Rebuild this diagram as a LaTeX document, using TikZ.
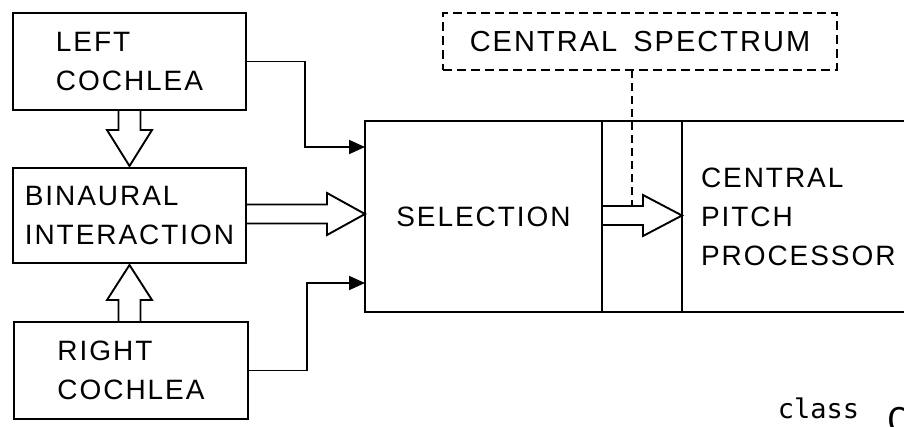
\documentclass[tikz,border=0pt]{standalone}
\usepackage{fontspec}
\setmainfont{Liberation Sans}[LetterSpace=7]
\newfontfamily\monofont{DejaVu Sans Mono}
\usetikzlibrary{arrows.meta,calc}
\begin{document}
\begin{tikzpicture}[x=1pt,y=-1pt, line width=1.9pt,
  box/.style={draw, rectangle, inner sep=0pt, outer sep=0pt, anchor=north west},
  lbl/.style={font=\fontsize{28}{39}\selectfont, align=left},
  conn/.style={-{Triangle[length=16pt,width=14pt]}},
  fat/.style={line join=miter},
  dbox/.style={dash pattern=on 9pt off 5pt}]
\useasboundingbox (0,0) rectangle (904,426);

\node[box, lbl, minimum width=233pt, minimum height=97pt] (lc) at (13,13) {LEFT\\COCHLEA};
\node[box, lbl, minimum width=233pt, minimum height=95pt] (bi) at (13,168) {BINAURAL\\INTERACTION};
\node[box, lbl, minimum width=234pt, minimum height=97pt] (rc) at (14,322) {RIGHT\\COCHLEA};

\node[box, lbl, minimum width=237pt, minimum height=191pt] (sel) at (365,121) {SELECTION};
\node[box, minimum width=80pt, minimum height=191pt] (mid) at (602,121) {};
\node[box, lbl, minimum width=240pt, minimum height=191pt, text width=202pt, inner xsep=19pt] (cpp) at (682,121) {CENTRAL\\PITCH\\PROCESSOR};

\node[box, dbox, font=\fontsize{29}{29}\selectfont, minimum width=394pt, minimum height=57pt] (cs) at (443,13) {CENTRAL\hspace{16pt}SPECTRUM};

% hollow arrow left cochlea -> binaural
\coordinate (c1) at (lc.south);
\draw[fat] ($(c1)+(-11,0)$) -- ++(0,20) -- ++(-11.5,0) -- ($(bi.north)+(0,-2)$)
  -- ($(c1)+(22.5,20)$) -- ++(-11.5,0) -- ($(c1)+(11,0)$);
% hollow arrow right cochlea -> binaural
\coordinate (c2) at ($(rc.north)+(-1.5,0)$);
\draw[fat] ($(c2)+(-11,0)$) -- ++(0,-22) -- ++(-11.5,0) -- ($(bi.south)+(0,2)$)
  -- ($(c2)+(22.5,-22)$) -- ++(-11.5,0) -- ($(c2)+(11,0)$);
% hollow arrow binaural -> selection
\coordinate (c3) at ($(bi.east)+(0,-1.5)$);
\draw[fat] ($(c3)+(0,-9.5)$) -- ++(81,0) -- ++(0,-11.5) -- (sel.west |- c3)
  -- ($(c3)+(81,21)$) -- ++(0,-11.5) -- ($(c3)+(0,9.5)$);
% hollow arrow selection -> central pitch processor
\coordinate (c4) at ($(sel.east)+(0,-1)$);
\draw[fat] ($(c4)+(0,-9.5)$) coordinate (c4top) -- ++(41,0) -- ++(0,-11) -- (cpp.west |- c4)
  -- ($(c4)+(41,20.5)$) -- ++(0,-11) -- ($(c4)+(0,9.5)$);

% dashed link from central spectrum
\draw[dash pattern=on 8pt off 5pt] ($(cs.south west)+(189,0)$) coordinate (d1) -- (d1 |- c4top);

% single connectors
\draw[conn] (lc.east) -- ++(59,0) |- ($(sel.north west)+(0,26)$);
\draw[conn] (rc.east) -- ++(59,0) |- ($(sel.south west)+(0,-29)$);

% bottom caption fragment
\node[font=\monofont\fontsize{27}{27}\selectfont, anchor=base west, inner sep=0pt] (cls) at (777,418) {class};
\node[font=\monofont\fontsize{34}{34}\selectfont, anchor=north west, inner sep=0pt] (cc) at (886,406) {C};
\end{tikzpicture}
\end{document}
